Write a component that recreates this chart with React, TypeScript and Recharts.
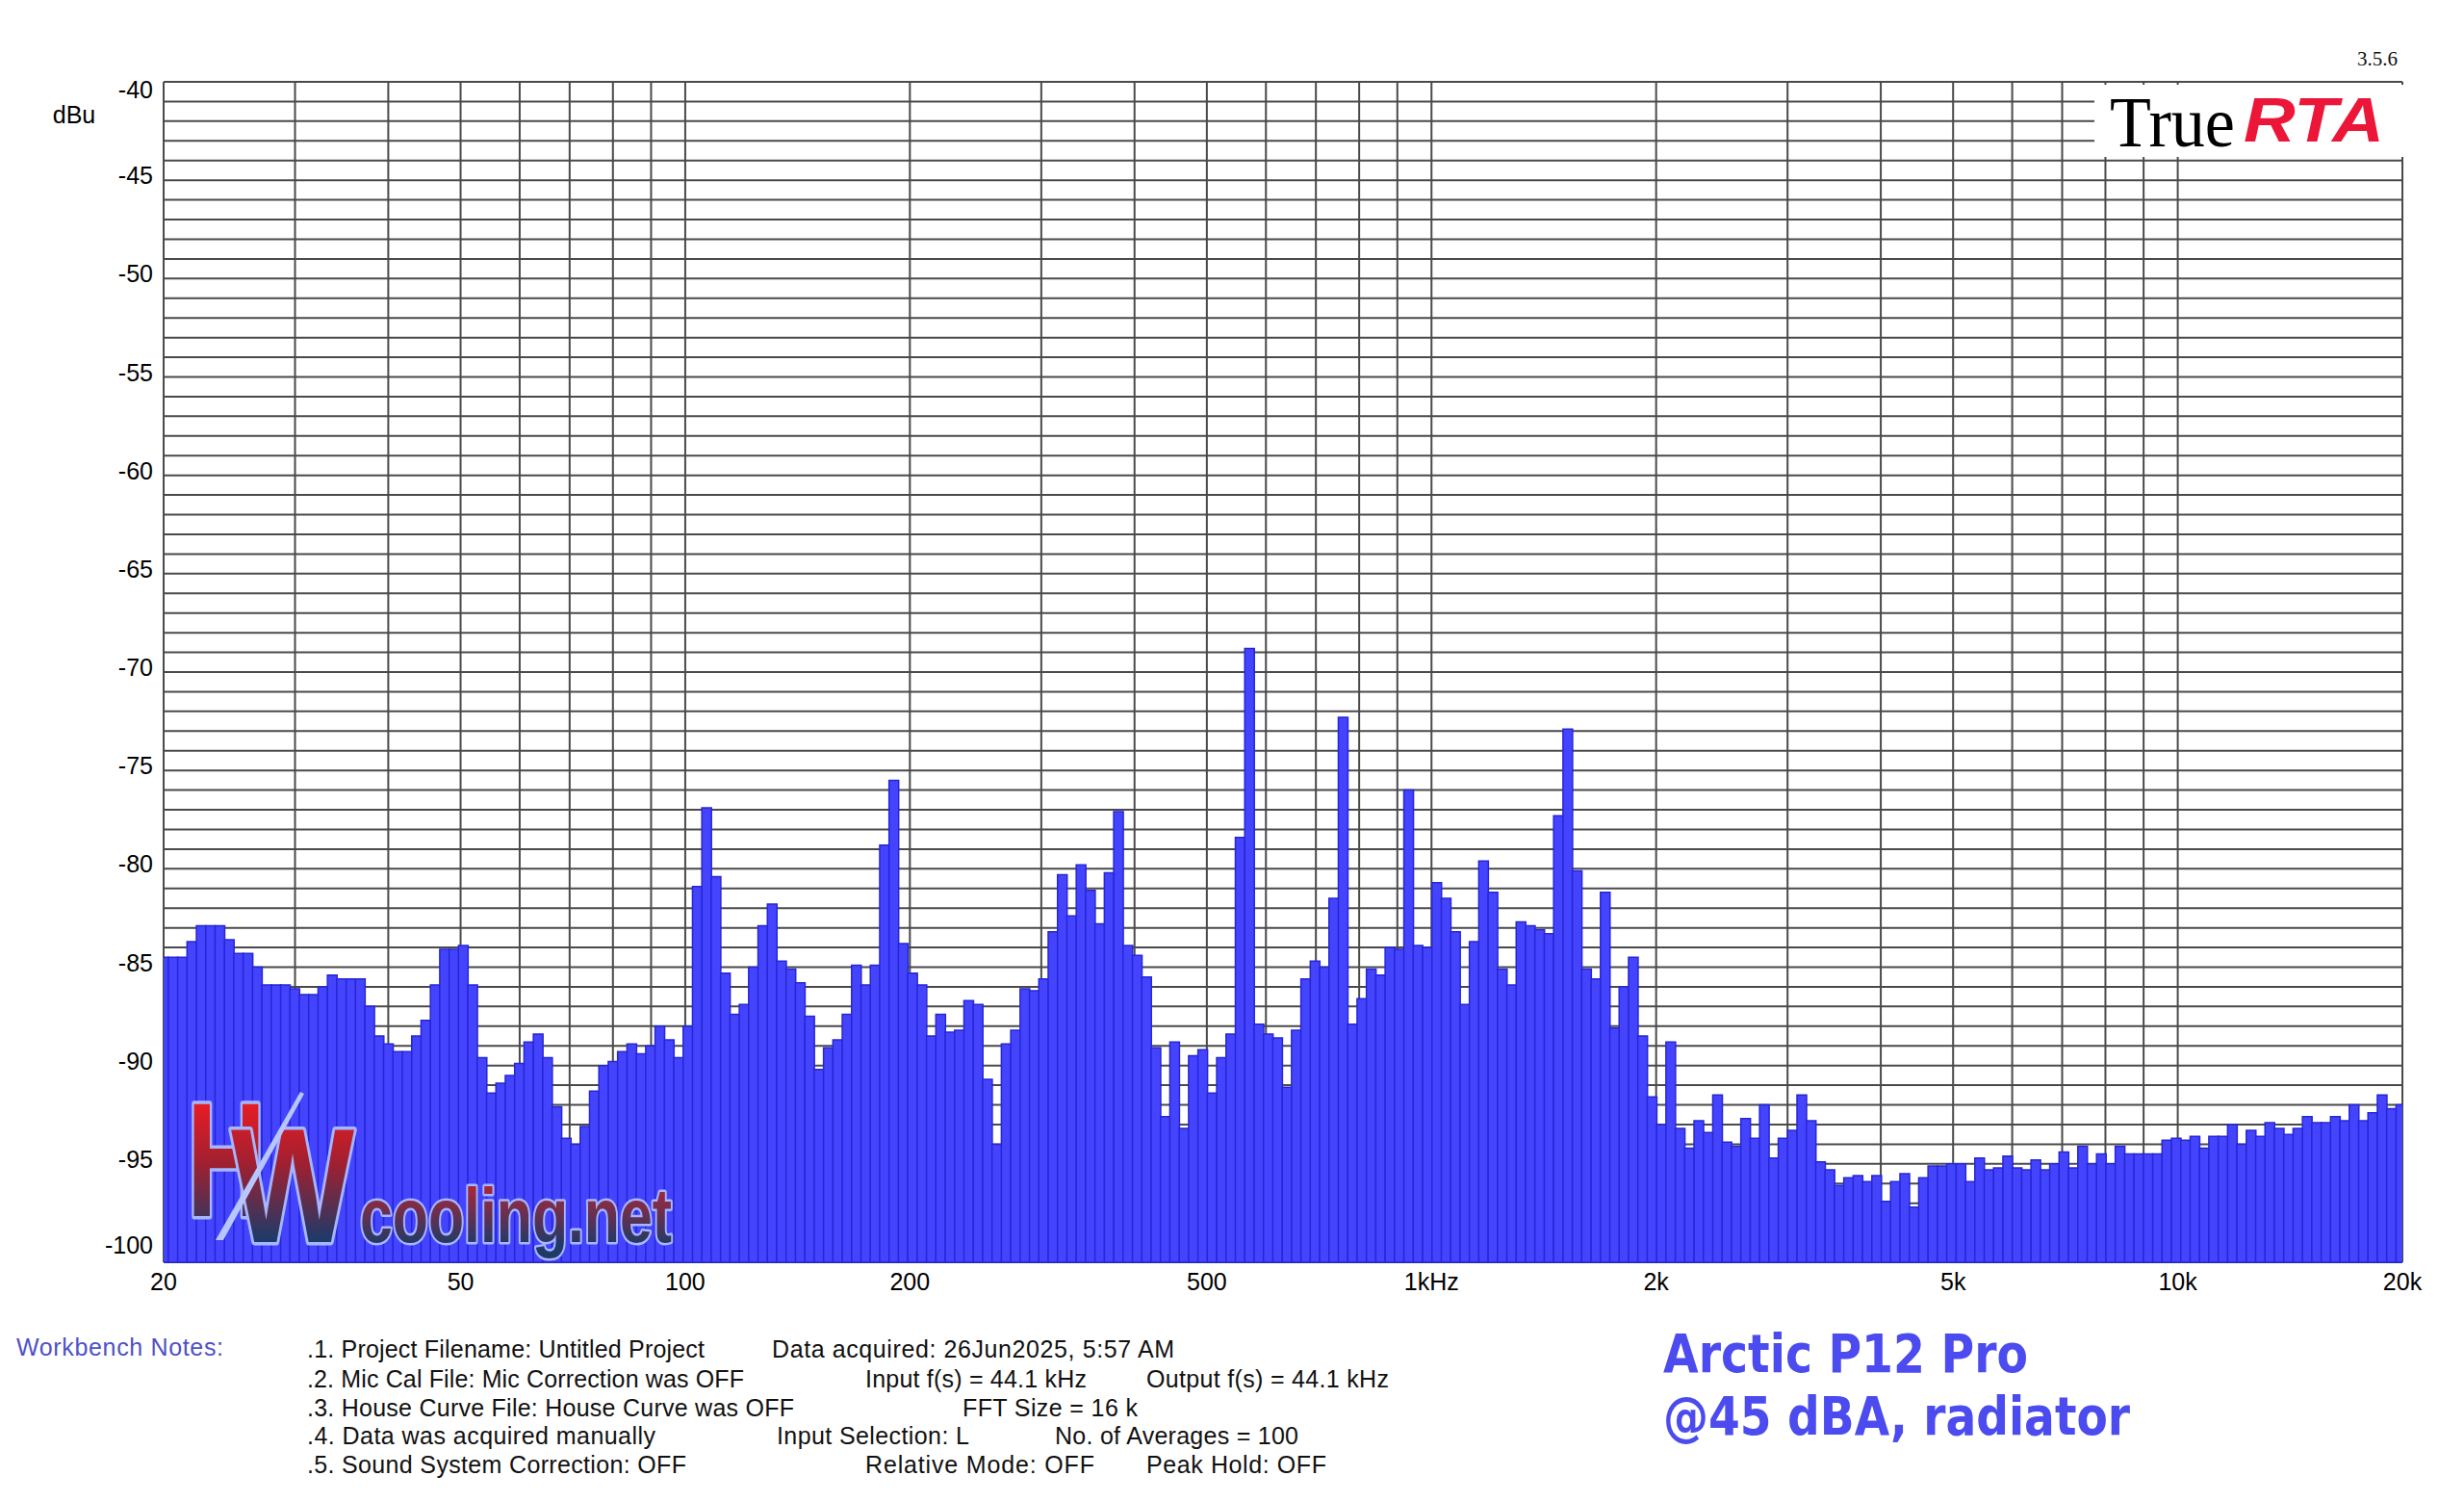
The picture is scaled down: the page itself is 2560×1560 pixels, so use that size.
import React from 'react';
import { BarChart, Bar, XAxis, YAxis, CartesianGrid, ReferenceArea } from 'recharts';

// 1/24-octave band levels in dBu, one list per octave (band 0 is centred on 20 Hz)
const oct20 = [-84.5, -84.5, -84.5, -83.7, -82.9, -82.9, -82.9, -83.6, -84.3, -84.3, -85.0, -85.9, -85.9, -85.9, -86.1, -86.4, -86.4, -86.0, -85.4, -85.6, -85.6, -85.6, -87.0, -88.5];
const oct40 = [-88.9, -89.3, -89.3, -88.5, -87.7, -85.9, -84.1, -84.1, -83.9, -85.9, -89.6, -91.4, -90.9, -90.5, -89.9, -88.8, -88.4, -89.6, -92.1, -93.7, -94.0, -93.1, -91.3, -90.0];
const oct80 = [-89.8, -89.3, -88.9, -89.4, -89.0, -88.0, -88.7, -89.6, -88.0, -80.9, -76.9, -80.4, -85.3, -87.4, -86.9, -85.0, -82.9, -81.8, -84.7, -85.1, -85.8, -87.5, -90.2, -89.1];
const oct160 = [-88.7, -87.4, -84.9, -85.9, -84.9, -78.8, -75.5, -83.8, -85.3, -85.9, -88.5, -87.4, -88.3, -88.2, -86.7, -86.9, -90.7, -94.0, -88.9, -88.2, -86.1, -86.2, -85.6, -83.2];
const oct320 = [-80.3, -82.4, -79.8, -81.1, -82.8, -80.2, -77.1, -83.9, -84.4, -85.5, -89.1, -92.6, -88.8, -93.2, -89.5, -89.2, -91.4, -89.6, -88.4, -78.4, -68.8, -87.9, -88.4, -88.6];
const oct640 = [-91.1, -88.2, -85.6, -84.7, -85.0, -81.5, -72.3, -87.9, -86.6, -85.1, -85.4, -84.0, -84.1, -76.0, -83.9, -84.0, -80.7, -81.5, -83.2, -86.9, -83.7, -79.6, -81.2, -85.1];
const oct1k28 = [-85.9, -82.7, -82.9, -83.1, -83.3, -77.3, -72.9, -80.1, -85.1, -85.6, -81.2, -88.1, -86.0, -84.5, -88.5, -91.6, -93.0, -88.8, -93.2, -94.2, -92.8, -93.4, -91.5, -93.9];
const oct2k56 = [-94.1, -92.7, -93.7, -92.0, -94.7, -93.7, -93.3, -91.5, -92.8, -94.9, -95.3, -96.1, -95.7, -95.6, -95.9, -95.6, -96.9, -95.9, -95.5, -97.2, -95.7, -95.1, -95.1, -95.0];
const oct5k12 = [-95.0, -95.9, -94.7, -95.3, -95.2, -94.6, -95.2, -95.3, -94.8, -95.3, -95.0, -94.4, -95.2, -94.1, -95.0, -94.5, -95.0, -94.1, -94.5, -94.5, -94.5, -94.5, -93.8, -93.7];
const oct10k24 = [-93.8, -93.6, -94.2, -93.6, -93.6, -93.0, -94.0, -93.3, -93.6, -92.9, -93.2, -93.5, -93.2, -92.6, -92.9, -92.9, -92.6, -92.8, -92.0, -92.8, -92.4, -91.5, -92.2, -92.0];

const levels = [...oct20, ...oct40, ...oct80, ...oct160, ...oct320, ...oct640, ...oct1k28, ...oct2k56, ...oct5k12, ...oct10k24];

// vertical grid lines (Hz) and their labels
const freqGrid = [20, 30, 40, 50, 60, 70, 80, 90, 100, 200, 300, 400, 500, 600, 700, 800, 900, 1000, 2000, 3000, 4000, 5000, 6000, 7000, 8000, 9000, 10000, 20000];
const freqLabels = ['20', '', '', '50', '', '', '', '', '100', '200', '', '', '500', '', '', '', '', '1kHz', '2k', '', '', '5k', '', '', '', '', '10k', '20k'];

// horizontal grid every dB, labels every 5 dB
const dbTicks = [
  -100, -99, -98, -97, -96, -95, -94, -93, -92, -91, -90, -89, -88, -87, -86, -85, -84, -83, -82, -81, -80,
  -79, -78, -77, -76, -75, -74, -73, -72, -71, -70, -69, -68, -67, -66, -65, -64, -63, -62, -61, -60,
  -59, -58, -57, -56, -55, -54, -53, -52, -51, -50, -49, -48, -47, -46, -45, -44, -43, -42, -41, -40,
];

const FLOOR = -100;
const CEIL = -40;
const BANDS_PER_OCTAVE = 24;
const toBand = (hz: number) => BANDS_PER_OCTAVE * Math.log2(hz / 20);
const BAND_SPAN = toBand(20000);
const gridBands = freqGrid.map(toBand);
const FONT = '"Liberation Sans", Arial, sans-serif';
const CAPTION_FONT = '"DejaVu Sans", Verdana, sans-serif';

const data = levels.map((level, band) => ({ band, level }));

const DbTick = (props: any) => {
  const { x, y, payload } = props;
  const v = payload.value;
  if (v % 5 !== 0) return <g />;
  const nudge = v === CEIL ? 8 : v === FLOOR ? -18 : -5;
  return (
    <text x={x} y={y + nudge} textAnchor="end" dominantBaseline="central" fontSize={25} fontFamily={FONT} fill="#000">
      {v}
    </text>
  );
};

const noteStyle = { fontSize: 25, fontFamily: FONT, fill: '#111' };
const logoStyle = {
  fontWeight: 'bold' as const,
  fontFamily: FONT,
  stroke: '#a6b6ff',
  strokeLinejoin: 'round' as const,
  paintOrder: 'stroke',
};

const Overlay = () => (
  <svg width={2560} height={1560} style={{ position: 'absolute', left: 0, top: 0, pointerEvents: 'none' }}>
    <defs>
      <linearGradient id="hwGrad" x1="0" y1="1140" x2="0" y2="1292" gradientUnits="userSpaceOnUse">
        <stop offset="0" stopColor="#ee1c24" />
        <stop offset="0.45" stopColor="#a02030" />
        <stop offset="1" stopColor="#163c6c" />
      </linearGradient>
      <linearGradient id="coolGrad" x1="0" y1="1232" x2="0" y2="1292" gradientUnits="userSpaceOnUse">
        <stop offset="0" stopColor="#ac2638" />
        <stop offset="1" stopColor="#203a68" />
      </linearGradient>
    </defs>

    <text x={2491} y={68} textAnchor="end" fontSize={21} fontFamily='"Liberation Serif", serif' fill="#111">3.5.6</text>
    <text x={77} y={128} textAnchor="middle" fontSize={25} fontFamily={FONT} fill="#000">dBu</text>

    {/* TrueRTA logo box */}
    <rect x={2176} y={88} width={323} height={75} fill="#fff" />
    <text x={2192} y={152} fontSize={74} fontFamily='"Liberation Serif", serif' fill="#000" textLength={130} lengthAdjust="spacingAndGlyphs">True</text>
    <text x={2331} y={147} fontSize={65} fontFamily={FONT} fontWeight="bold" fontStyle="italic" fill="#ec1639" textLength={146} lengthAdjust="spacingAndGlyphs">RTA</text>

    {/* HWcooling.net watermark */}
    <text x={194} y={1263} fontSize={169} {...logoStyle} strokeWidth={7} fill="url(#hwGrad)" textLength={82} lengthAdjust="spacingAndGlyphs">H</text>
    <text x={240} y={1290} fontSize={168} {...logoStyle} strokeWidth={7} fill="url(#hwGrad)" textLength={128} lengthAdjust="spacingAndGlyphs">W</text>
    <polygon points="312,1134 316,1136 232,1288 224,1288" fill="#b8c6ff" />
    <text x={374} y={1290} fontSize={80} {...logoStyle} strokeWidth={5} fill="url(#coolGrad)" textLength={324} lengthAdjust="spacingAndGlyphs">cooling.net</text>

    {/* workbench notes */}
    <text x={17} y={1408} {...noteStyle} fill="#5050c8" textLength={215} lengthAdjust="spacing">Workbench Notes:</text>
    <text x={319} y={1410} {...noteStyle} textLength={413} lengthAdjust="spacing">.1. Project Filename: Untitled Project</text>
    <text x={802} y={1410} {...noteStyle} textLength={418} lengthAdjust="spacing">Data acquired: 26Jun2025, 5:57 AM</text>
    <text x={319} y={1441} {...noteStyle} textLength={454} lengthAdjust="spacing">.2. Mic Cal File: Mic Correction was OFF</text>
    <text x={899} y={1441} {...noteStyle} textLength={230} lengthAdjust="spacing">Input f(s) = 44.1 kHz</text>
    <text x={1191} y={1441} {...noteStyle} textLength={252} lengthAdjust="spacing">Output f(s) = 44.1 kHz</text>
    <text x={319} y={1471} {...noteStyle} textLength={506} lengthAdjust="spacing">.3. House Curve File: House Curve was OFF</text>
    <text x={1000} y={1471} {...noteStyle} textLength={182} lengthAdjust="spacing">FFT Size = 16 k</text>
    <text x={319} y={1500} {...noteStyle} textLength={362} lengthAdjust="spacing">.4. Data was acquired manually</text>
    <text x={807} y={1500} {...noteStyle} textLength={200} lengthAdjust="spacing">Input Selection: L</text>
    <text x={1096} y={1500} {...noteStyle} textLength={253} lengthAdjust="spacing">No. of Averages = 100</text>
    <text x={319} y={1530} {...noteStyle} textLength={394} lengthAdjust="spacing">.5. Sound System Correction: OFF</text>
    <text x={899} y={1530} {...noteStyle} textLength={238} lengthAdjust="spacing">Relative Mode:  OFF</text>
    <text x={1191} y={1530} {...noteStyle} textLength={187} lengthAdjust="spacing">Peak Hold: OFF</text>

    {/* caption */}
    <text x={1728} y={1425} fontSize={55} fontWeight="bold" fontFamily={CAPTION_FONT} fill="#4b4bef" textLength={379} lengthAdjust="spacingAndGlyphs">Arctic P12 Pro</text>
    <text x={1728} y={1490} fontSize={55} fontWeight="bold" fontFamily={CAPTION_FONT} fill="#4b4bef" textLength={485} lengthAdjust="spacingAndGlyphs">@45 dBA, radiator</text>
  </svg>
);

export default function App() {
  return (
    <div style={{ position: 'absolute', left: 0, top: 0, width: 2560, height: 1560, background: '#fff', fontFamily: FONT }}>
      <BarChart
        width={2560}
        height={1560}
        data={data}
        margin={{ top: 85, right: 64, bottom: 189, left: 0 }}
        barCategoryGap={0}
        barGap={0}
      >
        <CartesianGrid stroke="#4a4a4a" strokeWidth={2} />
        <XAxis
          dataKey="band"
          type="number"
          domain={[0, BAND_SPAN]}
          allowDataOverflow
          ticks={gridBands}
          interval={0}
          tickFormatter={(_v: number, i: number) => freqLabels[i] ?? ''}
          tickLine={false}
          axisLine={false}
          tickSize={0}
          tickMargin={11}
          height={60}
          tick={{ fontSize: 25, fill: '#000', fontFamily: FONT }}
        />
        <YAxis
          type="number"
          domain={[FLOOR, CEIL]}
          ticks={dbTicks}
          interval={0}
          width={170}
          tickLine={false}
          axisLine={false}
          tickSize={0}
          tickMargin={11}
          tick={DbTick}
        />
        <Bar
          dataKey={(d: { level: number }) => [FLOOR, d.level]}
          fill="#4444ff"
          stroke="#2626d6"
          strokeWidth={1.5}
          isAnimationActive={false}
        />
        <ReferenceArea fill="none" fillOpacity={0} stroke="#6a6a6a" strokeWidth={4} />
      </BarChart>
      <Overlay />
    </div>
  );
}
